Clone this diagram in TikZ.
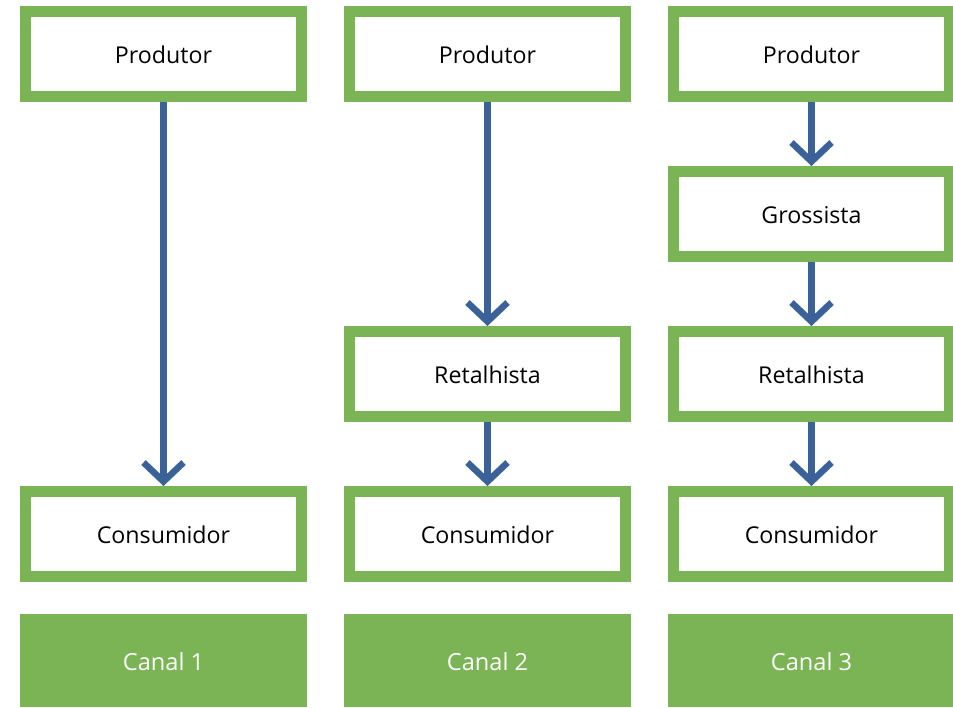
\documentclass[tikz,border=0pt]{standalone}
\usepackage{fontspec}
\setmainfont{Open Sans}
\usetikzlibrary{arrows.meta}
\definecolor{boxgreen}{RGB}{122,180,85}
\definecolor{arrowblue}{RGB}{58,98,152}
\tikzset{
  stagebox/.style={draw=boxgreen, line width=11pt, fill=white, minimum width=276pt, minimum height=85pt, inner sep=0pt, text height=19pt, text depth=0pt, font=\fontsize{23.2}{26}\selectfont, text=black},
  canalbox/.style={fill=boxgreen, draw=none, minimum width=287pt, minimum height=93pt, inner sep=0pt, text height=20pt, text depth=0pt, font=\fontsize{23.6}{26}\selectfont, text=white},
  flow/.style={draw=arrowblue, line width=6.5pt, -{Straight Barb[length=19pt, width=40pt, line width=6.5pt]}}
}
\begin{document}
\begin{tikzpicture}[x=1pt, y=-1pt]
\useasboundingbox (0,0) rectangle (953,707);
% column 1
\node[stagebox] (p1) at (163.5,54) {Produtor};
\node[stagebox] (c1) at (163.5,534) {Consumidor};
\node[canalbox] (k1) at (163.5,660.5) {Canal 1};
% column 2
\node[stagebox] (p2) at (487.5,54) {Produtor};
\node[stagebox] (r2) at (487.5,374) {Retalhista};
\node[stagebox] (c2) at (487.5,534) {Consumidor};
\node[canalbox] (k2) at (487.5,660.5) {Canal 2};
% column 3
\node[stagebox] (p3) at (811.5,54) {Produtor};
\node[stagebox] (g3) at (811.5,214) {Grossista};
\node[stagebox] (r3) at (811.5,374) {Retalhista};
\node[stagebox] (c3) at (811.5,534) {Consumidor};
\node[canalbox] (k3) at (811.5,660.5) {Canal 3};
% arrows
\draw[flow] (p1.south) -- (c1.north);
\draw[flow] (p2.south) -- (r2.north);
\draw[flow] (r2.south) -- (c2.north);
\draw[flow] (p3.south) -- (g3.north);
\draw[flow] (g3.south) -- (r3.north);
\draw[flow] (r3.south) -- (c3.north);
\end{tikzpicture}
\end{document}
